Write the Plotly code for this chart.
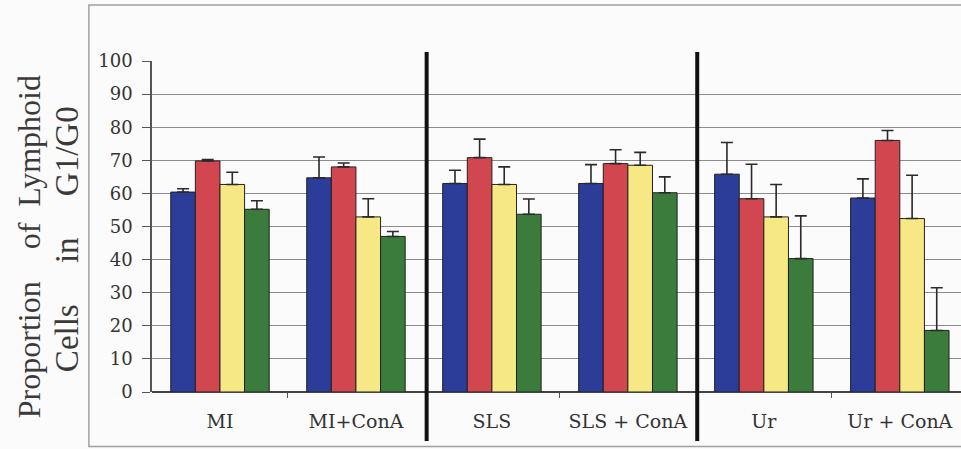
import plotly.graph_objects as go

# Treatment groups along the x axis
categories = ["MI", "MI+ConA", "SLS", "SLS + ConA", "Ur", "Ur + ConA"]

# Mean proportion (%) of lymphoid cells in G1/G0 for the four series
blue_vals = [60.4, 64.7, 63.0, 63.0, 65.8, 58.6]
red_vals = [69.8, 68.0, 70.8, 69.0, 58.4, 76.0]
yellow_vals = [62.7, 52.9, 62.7, 68.5, 52.9, 52.4]
green_vals = [55.2, 47.0, 53.7, 60.2, 40.3, 18.6]

# Upper error (SD) for each bar
blue_err = [1.0, 6.3, 4.0, 5.7, 9.6, 5.8]
red_err = [0.4, 1.2, 5.6, 4.2, 10.4, 3.0]
yellow_err = [3.7, 5.5, 5.3, 3.9, 9.8, 13.1]
green_err = [2.6, 1.5, 4.6, 4.8, 12.9, 12.9]

y_ticks = [0, 10, 20, 30, 40, 50, 60, 70, 80, 90, 100]

series = [
    (blue_vals, blue_err, "#2b3d98"),
    (red_vals, red_err, "#d2474f"),
    (yellow_vals, yellow_err, "#f6e884"),
    (green_vals, green_err, "#3b7b3b"),
]

x_pos = list(range(len(categories)))

fig = go.Figure()
for vals, errs, color in series:
    fig.add_trace(go.Bar(
        x=x_pos,
        y=vals,
        marker=dict(color=color, line=dict(color="#222222", width=1)),
        error_y=dict(type="data", symmetric=False, array=errs,
                     arrayminus=[0] * len(errs), color="#2a2a2a",
                     thickness=1.6, width=6),
        showlegend=False,
    ))

serif = "Liberation Serif"
tick_font = "DejaVu Serif"
nb = "\u00a0"

fig.update_layout(
    width=961,
    height=449,
    margin=dict(l=152, r=0, t=61, b=57),
    paper_bgcolor="#fbfbfb",
    plot_bgcolor="#fbfbfb",
    barmode="group",
    bargap=0.276,
    bargroupgap=0,
    xaxis=dict(
        range=[-0.5, 5.45],
        tickvals=x_pos,
        ticktext=categories,
        ticks="",
        showgrid=False,
        zeroline=False,
        showline=False,
        tickfont=dict(family=tick_font, size=19, color="#333333"),
        ticklabelstandoff=16,
        minor=dict(tickvals=[0.5, 2.5, 4.5], ticks="outside", ticklen=5,
                   tickcolor="#555555", tickwidth=1, showgrid=False),
    ),
    yaxis=dict(
        range=[0, 100],
        tickvals=y_ticks,
        ticks="outside",
        ticklen=8,
        tickcolor="#555555",
        tickwidth=1.2,
        showline=True,
        linecolor="#555555",
        linewidth=1.5,
        showgrid=True,
        gridcolor="#8c8c8c",
        gridwidth=1.4,
        zeroline=True,
        zerolinecolor="#444444",
        zerolinewidth=1.5,
        tickfont=dict(family=tick_font, size=18, color="#333333"),
        ticklabelstandoff=6,
    ),
    annotations=[
        dict(text="Proportion" + nb * 4 + "of" + nb * 2 + "Lymphoid", textangle=-90,
             xref="paper", yref="paper", x=-0.151, y=0.44,
             xanchor="center", yanchor="middle", showarrow=False,
             font=dict(family=serif, size=32, color="#3a3a3a")),
        dict(text="Cells" + nb * 5 + "in" + nb * 5 + "G1/G0", textangle=-90,
             xref="paper", yref="paper", x=-0.105, y=0.462,
             xanchor="center", yanchor="middle", showarrow=False,
             font=dict(family=serif, size=33, color="#3a3a3a")),
    ],
    shapes=[
        # outer frame around the chart
        dict(type="rect", xref="paper", yref="paper",
             x0=-0.078, x1=1.02, y0=-0.165, y1=1.169,
             line=dict(color="#a0a0a0", width=1.5), layer="below"),
        # heavy separators between treatment pairs
        dict(type="line", xref="x", yref="paper", x0=1.52, x1=1.52,
             y0=-0.148, y1=1.027, line=dict(color="#111111", width=4)),
        dict(type="line", xref="x", yref="paper", x0=3.51, x1=3.51,
             y0=-0.148, y1=1.027, line=dict(color="#111111", width=4)),
    ],
)

fig.write_html("out.html")
